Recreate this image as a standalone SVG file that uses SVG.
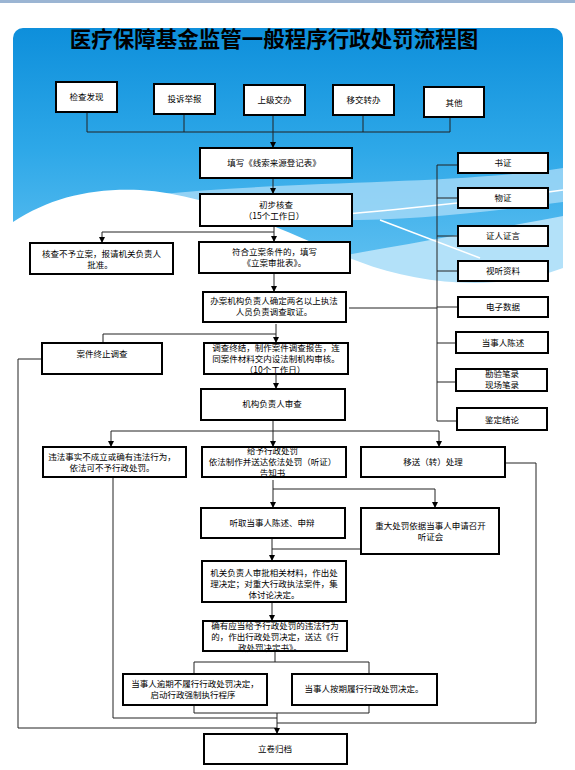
<svg xmlns="http://www.w3.org/2000/svg" width="575" height="770" viewBox="0 0 575 770">
<defs>
<linearGradient id="bg" x1="0" y1="28" x2="0" y2="300" gradientUnits="userSpaceOnUse">
<stop offset="0" stop-color="#0e8fdb"/>
<stop offset="0.45" stop-color="#2ea8e8"/>
<stop offset="1" stop-color="#6cc6f3"/>
</linearGradient>
<marker id="ar" viewBox="0 0 6 6" refX="6" refY="3" markerWidth="6" markerHeight="6" markerUnits="userSpaceOnUse" orient="auto">
<path d="M0,0 L6,3 L0,6 Z" fill="#000"/>
</marker>
<style>
.b{fill:#fff;stroke:#000;stroke-width:2}
.t{font-family:"Noto Sans CJK SC","Liberation Sans",sans-serif;font-size:8.5px;fill:#000;text-anchor:middle}
.c{fill:none;stroke:#222;stroke-width:1}
.a{marker-end:url(#ar)}
</style>
</defs>
<rect x="0" y="0" width="575" height="770" fill="#fff"/>
<rect x="0" y="0" width="575" height="3" fill="#9bb5d3"/>
<g id="background">
<rect x="13" y="28" width="550" height="752" rx="10" fill="url(#bg)"/>
<path d="M150,195 C300,180 450,185 563,168 V202 C450,217 350,226 250,216 C200,206 170,198 150,195 Z" fill="#a7dbf7" opacity="0.8"/>
<path d="M330,258 C420,242 500,228 563,216 V290 C480,296 400,288 330,264 Z" fill="#b3e1f9"/>
<path d="M13,222 C50,198 90,188 140,190 C220,195 300,240 360,262 C420,285 500,292 563,268 V780 H13 Z" fill="#fff"/>
<path d="M190,228 C300,218 450,206 563,190" fill="none" stroke="#fff" stroke-width="1.5"/>
<path d="M380,220 L480,258" fill="none" stroke="#fff" stroke-width="1.5"/>
</g>
<text x="274" y="47" style="font-family:'Noto Sans CJK SC',sans-serif;font-size:21.5px;font-weight:bold;text-anchor:middle;fill:#000">医疗保障基金监管一般程序行政处罚流程图</text>
<g id="connectors">
<path class="c" d="M87,112 V132 M184,114 V132 M363,115 V132 M450,117 V132 M87,132 H450"/>
<path class="c a" d="M273,115 V148"/>
<path class="c a" d="M273,178 V194"/>
<path class="c a" d="M274,226 V242"/>
<path class="c a" d="M274,232 H102 V243"/>
<path class="c a" d="M274,273 V292"/>
<path class="c" d="M349,308 H437 M437,165 V421 M437,165 H458 M437,198 H458 M437,236 H458 M437,271 H458 M437,307 H458 M437,343 H456 M437,382 H456 M437,421 H457"/>
<path class="c a" d="M276,324 V343"/>
<path class="c" d="M276,334 H103 V343"/>
<path class="c" d="M42,359 H18 V728 H277"/>
<path class="c a" d="M276,374 V389"/>
<path class="c a" d="M273,420 V447"/>
<path class="c" d="M111,431 H439"/>
<path class="c a" d="M111,431 V447"/>
<path class="c a" d="M439,431 V447"/>
<path class="c" d="M113,477 V718 H277"/>
<path class="c" d="M505,463 H536 V723 H277"/>
<path class="c a" d="M273,480 V508"/>
<path class="c a" d="M273,489 H435 V508"/>
<path class="c" d="M361,549 H272"/>
<path class="c a" d="M272,538 V561"/>
<path class="c a" d="M272,602 V621"/>
<path class="c" d="M275,651 V662 M194,662 H369 M194,662 V674 M369,662 V674"/>
<path class="c" d="M194,706 V713 H369 V706"/>
<path class="c a" d="M277,713 V734"/>
</g>
<g id="n1"><rect class="b" x="56" y="82" width="61" height="30"/><text class="t" x="86.5" y="100">检查发现</text></g>
<g id="n2"><rect class="b" x="154" y="84" width="61" height="30"/><text class="t" x="184.5" y="102">投诉举报</text></g>
<g id="n3"><rect class="b" x="244" y="85" width="61" height="30"/><text class="t" x="274.5" y="103">上级交办</text></g>
<g id="n4"><rect class="b" x="333" y="85" width="61" height="30"/><text class="t" x="363.5" y="103">移交转办</text></g>
<g id="n5"><rect class="b" x="424" y="87" width="60" height="30"/><text class="t" x="454" y="105.5">其他</text></g>
<g id="n6"><rect class="b" x="200" y="148" width="152" height="30"/><text class="t" x="274" y="165.5">填写《线索来源登记表》</text></g>
<g id="n7"><rect class="b" x="200" y="194" width="152" height="32"/><text class="t" x="276" y="208">初步核查</text><text class="t" x="274" y="219">（15个工作日）</text></g>
<g id="n8"><rect class="b" x="30" y="243" width="143" height="31"/><text class="t" x="101.5" y="256.5">核查不予立案，报请机关负责人</text><text class="t" x="100" y="267.5">批准。</text></g>
<g id="n9"><rect class="b" x="199" y="242" width="151" height="31"/><text class="t" x="274.5" y="254.5">符合立案条件的，填写</text><text class="t" x="274.5" y="265.5">《立案审批表》。</text></g>
<g id="n10"><rect class="b" x="203" y="292" width="143" height="30"/><text class="t" x="274" y="304">办案机构负责人确定两名以上执法</text><text class="t" x="274" y="315">人员负责调查取证。</text></g>
<g id="n11"><rect class="b" x="42" y="343" width="120" height="31"/><text class="t" x="102" y="357">案件终止调查</text></g>
<g id="n12"><rect class="b" x="204" y="343" width="144" height="31"/><text class="t" x="276" y="350.5">调查终结，制作案件调查报告，连</text><text class="t" x="276" y="361.5">同案件材料交内设法制机构审核。</text><text class="t" x="275" y="372.5">（10个工作日）</text></g>
<g id="n13"><rect class="b" x="201" y="389" width="144" height="31"/><text class="t" x="272" y="407">机构负责人审查</text></g>
<g id="n14"><rect class="b" x="43" y="447" width="143" height="30"/><text class="t" x="112" y="459.5">违法事实不成立或确有违法行为，</text><text class="t" x="112" y="470.5">依法可不予行政处罚。</text></g>
<g id="n15"><rect class="b" x="202" y="447" width="144" height="30"/><text class="t" x="272.5" y="454">给予行政处罚</text><text class="t" x="272.5" y="465">依法制作并送达依法处罚（听证）</text><text class="t" x="272.5" y="476">告知书</text></g>
<g id="n16"><rect class="b" x="361" y="447" width="144" height="30"/><text class="t" x="433" y="465">移送（转）处理</text></g>
<g id="n17"><rect class="b" x="201" y="508" width="144" height="30"/><text class="t" x="272" y="526">听取当事人陈述、申辩</text></g>
<g id="n18"><rect class="b" x="361" y="508" width="138" height="46"/><text class="t" x="430.5" y="528.5">重大处罚依据当事人申请召开</text><text class="t" x="430.5" y="539.5">听证会</text></g>
<g id="n19"><rect class="b" x="202" y="561" width="144" height="41"/><text class="t" x="274" y="575.5">机关负责人审批相关材料，作出处</text><text class="t" x="274" y="586.5">理决定；对重大行政执法案件，集</text><text class="t" x="274" y="597.5">体讨论决定。</text></g>
<g id="n20"><rect class="b" x="203" y="621" width="144" height="30"/><text class="t" x="275" y="629">确有应当给予行政处罚的违法行为</text><text class="t" x="275" y="640">的，作出行政处罚决定，送达《行</text><text class="t" x="270" y="651">政处罚决定书》。</text></g>
<g id="n21"><rect class="b" x="123" y="674" width="144" height="31"/><text class="t" x="195" y="686.5">当事人逾期不履行行政处罚决定，</text><text class="t" x="193" y="697.5">启动行政强制执行程序</text></g>
<g id="n22"><rect class="b" x="292" y="674" width="145" height="31"/><text class="t" x="364" y="692">当事人按期履行行政处罚决定。</text></g>
<g id="n23"><rect class="b" x="204" y="734" width="143" height="30"/><text class="t" x="275" y="752">立卷归档</text></g>
<g id="e1"><rect class="b" x="458" y="153" width="90" height="20"/><text class="t" x="503" y="166">书证</text></g>
<g id="e2"><rect class="b" x="458" y="188" width="90" height="20"/><text class="t" x="503" y="201">物证</text></g>
<g id="e3"><rect class="b" x="458" y="226" width="90" height="20"/><text class="t" x="503" y="239">证人证言</text></g>
<g id="e4"><rect class="b" x="458" y="261" width="90" height="20"/><text class="t" x="503" y="274">视听资料</text></g>
<g id="e5"><rect class="b" x="458" y="297" width="90" height="20"/><text class="t" x="503" y="310">电子数据</text></g>
<g id="e6"><rect class="b" x="456" y="332" width="92" height="21"/><text class="t" x="503" y="346">当事人陈述</text></g>
<g id="e7"><rect class="b" x="456" y="369" width="91" height="22"/><text class="t" x="502" y="377">勘验笔录</text><text class="t" x="502" y="388">现场笔录</text></g>
<g id="e8"><rect class="b" x="457" y="408" width="90" height="22"/><text class="t" x="502" y="423">鉴定结论</text></g>
</svg>
